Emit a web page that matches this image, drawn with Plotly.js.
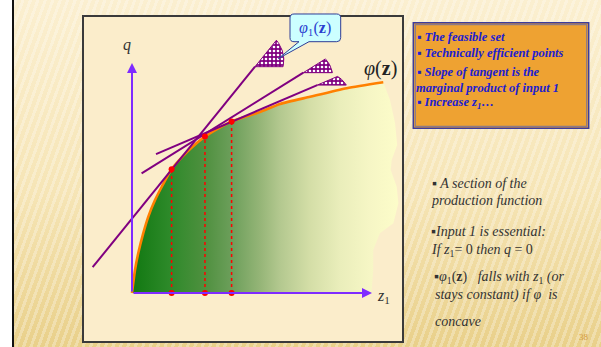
<!DOCTYPE html>
<html>
<head>
<meta charset="utf-8">
<script src="https://cdn.plot.ly/plotly-3.0.1.min.js"></script>
<style>
  html, body { margin: 0; padding: 0; width: 601px; height: 347px; overflow: hidden; background: #ffffff; }
  #slide {
    position: absolute; left: 12px; top: 0; width: 589px; height: 347px; box-sizing: border-box;
    border-left: 2px solid #111;
    background:
      repeating-linear-gradient(110deg, rgba(255,255,255,0.28) 0px, rgba(255,255,255,0.28) 3px, rgba(255,255,255,0) 3px, rgba(255,255,255,0) 7px),
      linear-gradient(to bottom, #FBEFD0 0%, #F6E5B6 55%, #E9D08A 100%);
  }
  #chart { position: absolute; left: 0; top: 0; width: 601px; height: 347px; }
</style>
</head>
<body>
<div id="slide"></div>
<div id="chart"></div>
<script>
// Production function phi(z) as a function of input z1 (arbitrary units)
const curveZ = [0, 0.125, 0.26, 0.47, 0.68, 0.96, 1.24, 1.65, 2.33, 3.04, 4.15, 5.33, 6.17, 7.42, 8.95, 10.47];
const curveQ = [0, 1.0, 1.73, 2.6, 3.32, 4.04, 4.62, 5.38, 6.17, 6.8, 7.46, 7.87, 8.22, 8.53, 8.9, 9.16];

// Ragged right-hand boundary of the feasible set (top to bottom)
const edgeZ = [10.75, 10.96, 11.05, 10.82, 10.78, 11.03, 11.1, 10.89, 10.33, 10.05, 10.05, 9.99, 9.99];
const edgeQ = [8.39, 7.39, 6.43, 5.78, 5.35, 4.62, 3.9, 3.03, 2.6, 1.87, 1.0, 0.13, 0];

// Technically efficient points where tangents are drawn
const pointZ = [1.65, 3.04, 4.15];
const pointQ = [5.38, 6.8, 7.46];

// Tangent lines: start and end
const tanStartZ = [-1.64, 0.40, 1.0];
const tanStartQ = [1.12, 5.20, 6.04];
const tanEndZ = [5.125, 7.14, 7.72];
const tanEndQ = [9.84, 9.58, 9.04];

// Axis extents
const axisZmax = 10;
const axisQmax = 10;

// ---- geometry helpers (plot area in pixels) ----
const L = 84, T = 17, W = 318, H = 324;
const xr = [-2, 11.25], yr = [-2.087, 12];
const sx = W / (xr[1] - xr[0]), sy = H / (yr[1] - yr[0]);
const X = px => (px - L) / W;
const Y = py => (T + H - py) / H;
const P = (x, y) => X(x).toFixed(4) + ',' + Y(y).toFixed(4);

const serif = '"Liberation Serif", "Times New Roman", Times, serif';
const purple = '#800080';
const axisCol = '#7F2BFF';

const traces = [];

// Feasible set with horizontal green-to-yellow gradient
traces.push({
  x: curveZ.concat(edgeZ, [0]),
  y: curveQ.concat(edgeQ, [0]),
  mode: 'lines', line: {width: 0, color: 'rgba(0,0,0,0)'},
  fill: 'toself',
  fillgradient: {
    type: 'horizontal', start: 0, stop: 11,
    colorscale: [
      [0, '#117811'], [0.145, '#2E8A2A'], [0.276, '#4F903F'], [0.38, '#6D9F5B'],
      [0.485, '#95B577'], [0.56, '#B3C88F'], [0.674, '#D4DEA7'], [0.79, '#EAEEBB'],
      [0.9, '#F6F6C5'], [1, '#FCFCC9']
    ]
  },
  hoverinfo: 'skip'
});

// Frontier phi(z)
traces.push({
  x: curveZ, y: curveQ, mode: 'lines',
  line: {color: '#FF8000', width: 2.6, shape: 'spline', smoothing: 0.6},
  hoverinfo: 'skip'
});

// Dotted drop lines from efficient points to the z1 axis
pointZ.forEach((z, i) => {
  traces.push({
    x: [z, z], y: [0, pointQ[i]], mode: 'lines',
    line: {color: '#FF0000', width: 1.5, dash: 'dot'}, hoverinfo: 'skip'
  });
});

// Tangent lines and their slope wedges
const wedgeRadii = [[28, 34], [29, 26], [29, 22]];
tanStartZ.forEach((z0, i) => {
  const z1 = tanEndZ[i], q1 = tanEndQ[i];
  traces.push({
    x: [z0, z1], y: [tanStartQ[i], q1], mode: 'lines',
    line: {color: purple, width: 2}, hoverinfo: 'skip'
  });
  const theta = Math.atan2((q1 - tanStartQ[i]) * sy, (z1 - z0) * sx);
  const wx = [z1], wy = [q1];
  const n = 24;
  for (let k = 0; k <= n; k++) {
    const t = theta * k / n;
    const r = wedgeRadii[i][0] + (wedgeRadii[i][1] - wedgeRadii[i][0]) * k / n;
    wx.push(z1 + r * Math.cos(t) / sx);
    wy.push(q1 + r * Math.sin(t) / sy);
  }
  wx.push(z1); wy.push(q1);
  traces.push({
    x: wx, y: wy, mode: 'lines', fill: 'toself',
    line: {color: purple, width: 1},
    fillcolor: purple,
    fillpattern: {shape: '.', bgcolor: purple, fgcolor: '#ffffff', size: 4, solidity: 0.35},
    hoverinfo: 'skip'
  });
});

// Red markers on the curve and on the axis
traces.push({
  x: pointZ.concat(pointZ), y: pointQ.concat(pointZ.map(() => 0)),
  mode: 'markers', marker: {color: '#FF0000', size: 6, symbol: 'circle'},
  hoverinfo: 'skip'
});

const shapes = [
  // inner white panel
  {type: 'rect', xref: 'paper', yref: 'paper', layer: 'below',
   x0: X(83), x1: X(403), y0: Y(342), y1: Y(16),
   fillcolor: '#FBEDCB', line: {color: '#3A3A3A', width: 2}},
  // callout bubble
  {type: 'path', xref: 'paper', yref: 'paper', layer: 'above',
   path: 'M' + P(294, 14) + ' L' + P(336.7, 14) + ' Q' + P(340.7, 14) + ' ' + P(340.7, 18) +
         ' L' + P(340.7, 37.7) + ' Q' + P(340.7, 41.7) + ' ' + P(336.7, 41.7) +
         ' L' + P(309, 41.7) + ' L' + P(278.5, 58.5) + ' L' + P(299, 41.7) +
         ' L' + P(294, 41.7) + ' Q' + P(290, 41.7) + ' ' + P(290, 37.7) +
         ' L' + P(290, 18) + ' Q' + P(290, 14) + ' ' + P(294, 14) + ' Z',
   fillcolor: '#CCFFFF', line: {color: '#2E3C96', width: 1}},
  // orange notes box (double border)
  {type: 'rect', xref: 'paper', yref: 'paper', layer: 'above',
   x0: X(413.3), x1: X(588.7), y0: Y(128.3), y1: Y(22.7),
   fillcolor: '#EEA232', line: {color: '#3C3C9C', width: 1.5}},
  {type: 'rect', xref: 'paper', yref: 'paper', layer: 'above',
   x0: X(415.3), x1: X(586.7), y0: Y(126.3), y1: Y(24.7),
   fillcolor: 'rgba(0,0,0,0)', line: {color: '#8C7A86', width: 1.2}}
];

const ann = [];
// axes with arrowheads
ann.push({x: axisZmax, y: 0, ax: 0, ay: 0, xref: 'x', yref: 'y', axref: 'x', ayref: 'y',
          text: '', showarrow: true, arrowhead: 2, arrowsize: 1, arrowwidth: 2, arrowcolor: axisCol, standoff: 0});
ann.push({x: 0, y: axisQmax, ax: 0, ay: 0, xref: 'x', yref: 'y', axref: 'x', ayref: 'y',
          text: '', showarrow: true, arrowhead: 2, arrowsize: 1, arrowwidth: 2, arrowcolor: axisCol, standoff: 0});

function txt(px, py, text, size, color, anchor) {
  ann.push({xref: 'paper', yref: 'paper', x: X(px), y: Y(py), text: text, showarrow: false,
            xanchor: anchor || 'left', yanchor: 'middle', align: 'left', borderpad: 0,
            font: {family: serif, size: size, color: color}});
}

txt(127, 45, '<i>q</i>', 16, '#333333', 'center');
txt(376, 296, '<i>z</i><sub>1</sub>', 16, '#333333', 'left');
txt(380, 68, '<i>φ</i>(<b>z</b>)', 20, '#222222', 'center');
txt(315.3, 28, '<i>φ</i><sub>1</sub>(<b>z</b>)', 16, '#2B3FD0', 'center');

const blue = '#2020D0';
const bl = s => '<b><i>' + s + '</i></b>';
txt(415.5, 37.5, bl('▪ The feasible set'), 12.5, blue);
txt(415.5, 52.5, bl('▪ Technically efficient points'), 12.5, blue);
txt(415.5, 72.3, bl('▪ Slope of tangent is the'), 12.5, blue);
txt(414.5, 87.8, bl('marginal product of input 1'), 12.5, blue);
txt(415.5, 103, '<b><i>▪ Increase z</i></b><sub><b><i>1</i></b></sub><b><i>…</i></b>', 12.5, blue);

const dark = '#333333';
txt(431, 183.3, '<i>▪ A section of the</i>', 14, dark);
txt(430, 200.7, '<i>production function</i>', 14, dark);
txt(430, 231.7, '<i>▪Input 1 is essential:</i>', 14, dark);
txt(430, 250, '<i>If z</i><sub>1</sub>= 0 <i>then q</i> = 0', 14, dark);
txt(433, 277.3, '▪<i>φ</i><sub>1</sub>(<b>z</b>)\u00a0\u00a0 <i>falls with z</i><sub>1</sub><i> (or</i>', 14, dark);
txt(434, 295, '<i>stays constant) if φ\u00a0 is</i>', 14, dark);
txt(434, 321.7, '<i>concave</i>', 14, dark);
txt(583.5, 337, '38', 9, '#D49A3C', 'center');

const layout = {
  width: 601, height: 347,
  margin: {l: L, r: 601 - L - W, t: T, b: 347 - T - H, pad: 0},
  paper_bgcolor: 'rgba(0,0,0,0)', plot_bgcolor: 'rgba(0,0,0,0)',
  showlegend: false, hovermode: false,
  font: {family: serif},
  xaxis: {range: xr, visible: false, fixedrange: true},
  yaxis: {range: yr, visible: false, fixedrange: true},
  shapes: shapes, annotations: ann
};

Plotly.newPlot('chart', traces, layout, {staticPlot: true, displayModeBar: false});
</script>
</body>
</html>
